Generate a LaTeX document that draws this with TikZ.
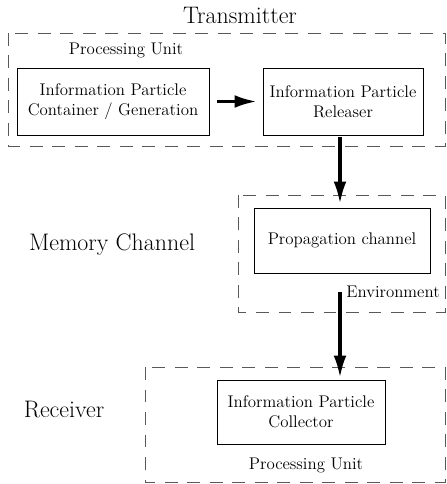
\documentclass[tikz,border=0pt]{standalone}
\usepackage{tikz}
\usetikzlibrary{arrows.meta}
\tikzset{unitbox/.style={dash pattern=on 9pt off 7pt, draw=black!65, line width=0.7pt}}
\tikzset{block/.style={draw, line width=0.6pt, align=center, font=\fontsize{12}{14.5}\selectfont}}
\tikzset{flow/.style={line width=2.2pt, -{Latex[length=5.5mm,width=3.2mm]}}}

\begin{document}
\begin{tikzpicture}[x=0.025cm, y=-0.025cm]
	\useasboundingbox (0,0) rectangle (446,484);
	% Dashed frames of the three parts
	\coordinate (txtl) at (8,33);		\coordinate (txbr) at (445,146);
	\coordinate (chtl) at (238,195);	\coordinate (chbr) at (445,312);
	\coordinate (rxtl) at (145,367);	\coordinate (rxbr) at (445,482);
	\draw[unitbox] (txtl) rectangle (txbr);
	\draw[unitbox] (chtl) rectangle (chbr);
	\draw[unitbox] (rxtl) rectangle (rxbr);

	% Blocks
	\node[block, minimum width=4.8cm, minimum height=1.675cm] (gen) at (113,101.5) {Information Particle\\Container / Generation};
	\node[block, minimum width=4cm, minimum height=1.675cm] (rel) at (343,101.5) {Information Particle\\Releaser};
	\node[block, minimum width=4.4cm, minimum height=1.625cm] (prop) at (342,240.5) {Propagation channel};
	\node[block, minimum width=4.2cm, minimum height=1.6cm] (coll) at (301,412) {Information Particle\\Collector};

	% Labels
	\tikzstyle{every node}=[font=\fontsize{12}{14.5}\selectfont];
	\node (txname) at (240,15) {\fontsize{17}{20}\selectfont Transmitter};
	\node (chname) at (112,245) {\fontsize{17}{20}\selectfont Memory Channel};
	\node (rxname) at (64,410) {\fontsize{17}{20}\selectfont Receiver};
	\node (txunit) at (126,50) {Processing Unit};
	\node (envname) at (393,292) {Environment};
	\node (rxunit) at (306,465) {Processing Unit};

	% Flow of particles
	\coordinate (envout) at (340,292);
	\draw[flow, shorten <=0.2cm, shorten >=0.15cm] (gen) -- (rel);
	\draw[flow, shorten <=0.05cm, shorten >=0.1cm] (rel.south -| envout) -- (prop.north -| envout);
	\draw[flow, shorten >=0.05cm] (envout) -- (envout |- coll.north);

\end{tikzpicture}
\end{document}
